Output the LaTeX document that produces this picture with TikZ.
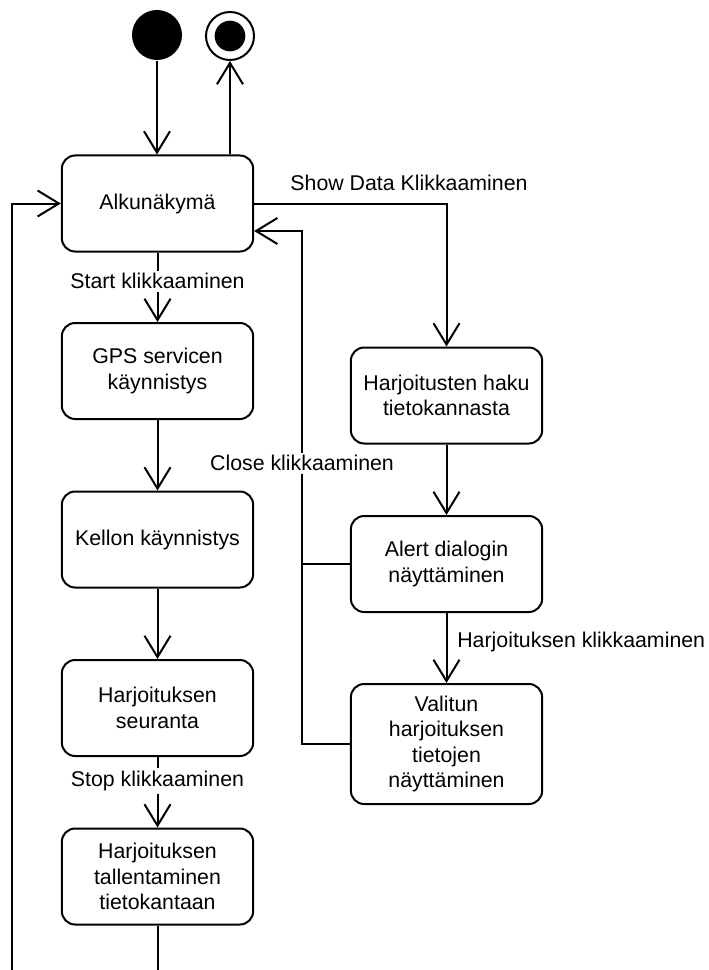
\documentclass[tikz,border=0pt]{standalone}
\usepackage{fontspec}
\setmainfont{Liberation Sans}
\usetikzlibrary{arrows.meta}
\begin{document}
\begin{tikzpicture}[x=0.75pt,y=-0.75pt,
  font=\fontsize{16}{19}\selectfont,
  line width=1.5pt,
  state/.style={draw,rounded corners=10pt,align=center,minimum width=143.5pt,minimum height=72pt,inner sep=2pt},
  arr/.style={-{Straight Barb[length=16pt,width=19.5pt,line width=1.5pt]}},
  lbl/.style={fill=white,inner sep=2pt},
  plain/.style={inner sep=1pt}]
\useasboundingbox (0,0) rectangle (709,970);
% start / end
\node[circle,fill=black,minimum size=37.5pt,inner sep=0pt] (start) at (157,35) {};
\node[circle,draw,minimum size=36pt,inner sep=0pt] (end) at (230,36) {};
\node[circle,fill=black,minimum size=23pt,inner sep=0pt] (endin) at (230,36) {};
% states
\node[state] (alku) at (157.5,203.5) {Alkunäkymä};
\node[state] (gps) at (157.5,371) {GPS servicen\\käynnistys};
\node[state] (kello) at (157.5,539.5) {Kellon käynnistys};
\node[state] (seur) at (157.5,708) {Harjoituksen\\seuranta};
\node[state] (tall) at (157.5,876.5) {Harjoituksen\\tallentaminen\\tietokantaan};
\node[state] (haku) at (446.5,395.5) {Harjoitusten haku\\tietokannasta};
\node[state] (alert) at (446.5,564) {Alert dialogin\\näyttäminen};
\node[state,minimum height=90pt] (val) at (446.5,744) {Valitun\\harjoituksen\\tietojen\\näyttäminen};
% coordinates
\coordinate (ret) at (302,231);
\coordinate (lpA) at (157.5,970);
\coordinate (lpB) at (12,970);
% connectors
\draw[arr] (start) -- (alku.north -| start);
\draw[arr] (alku.north -| end) -- (end);
\draw[arr] (alku.south) -- (gps.north);
\draw[arr] (gps) -- (kello);
\draw[arr] (kello) -- (seur);
\draw[arr] (seur) -- (tall);
\draw (tall.south) -- (lpA);
\draw[arr] (lpB) |- (alku.west);
\draw[arr] (alku.east) -| (haku.north);
\draw[arr] (haku) -- (alert);
\draw[arr] (alert) -- (val);
\draw (alert.west) -- (alert.west -| ret);
\draw[arr] (val.west) -| (ret) -- (ret -| alku.east);
% labels
\node[lbl] (lstart) at (157.5,281) {Start klikkaaminen};
\node[lbl] (lstop) at (157.5,781) {Stop klikkaaminen};
\node[lbl] (lclose) at (302,463) {Close klikkaaminen};
\node[plain] (lshow) at (409,183) {Show Data Klikkaaminen};
\node[plain,anchor=west] (lharj) at (455,642) {Harjoituksen klikkaaminen};
\end{tikzpicture}
\end{document}
